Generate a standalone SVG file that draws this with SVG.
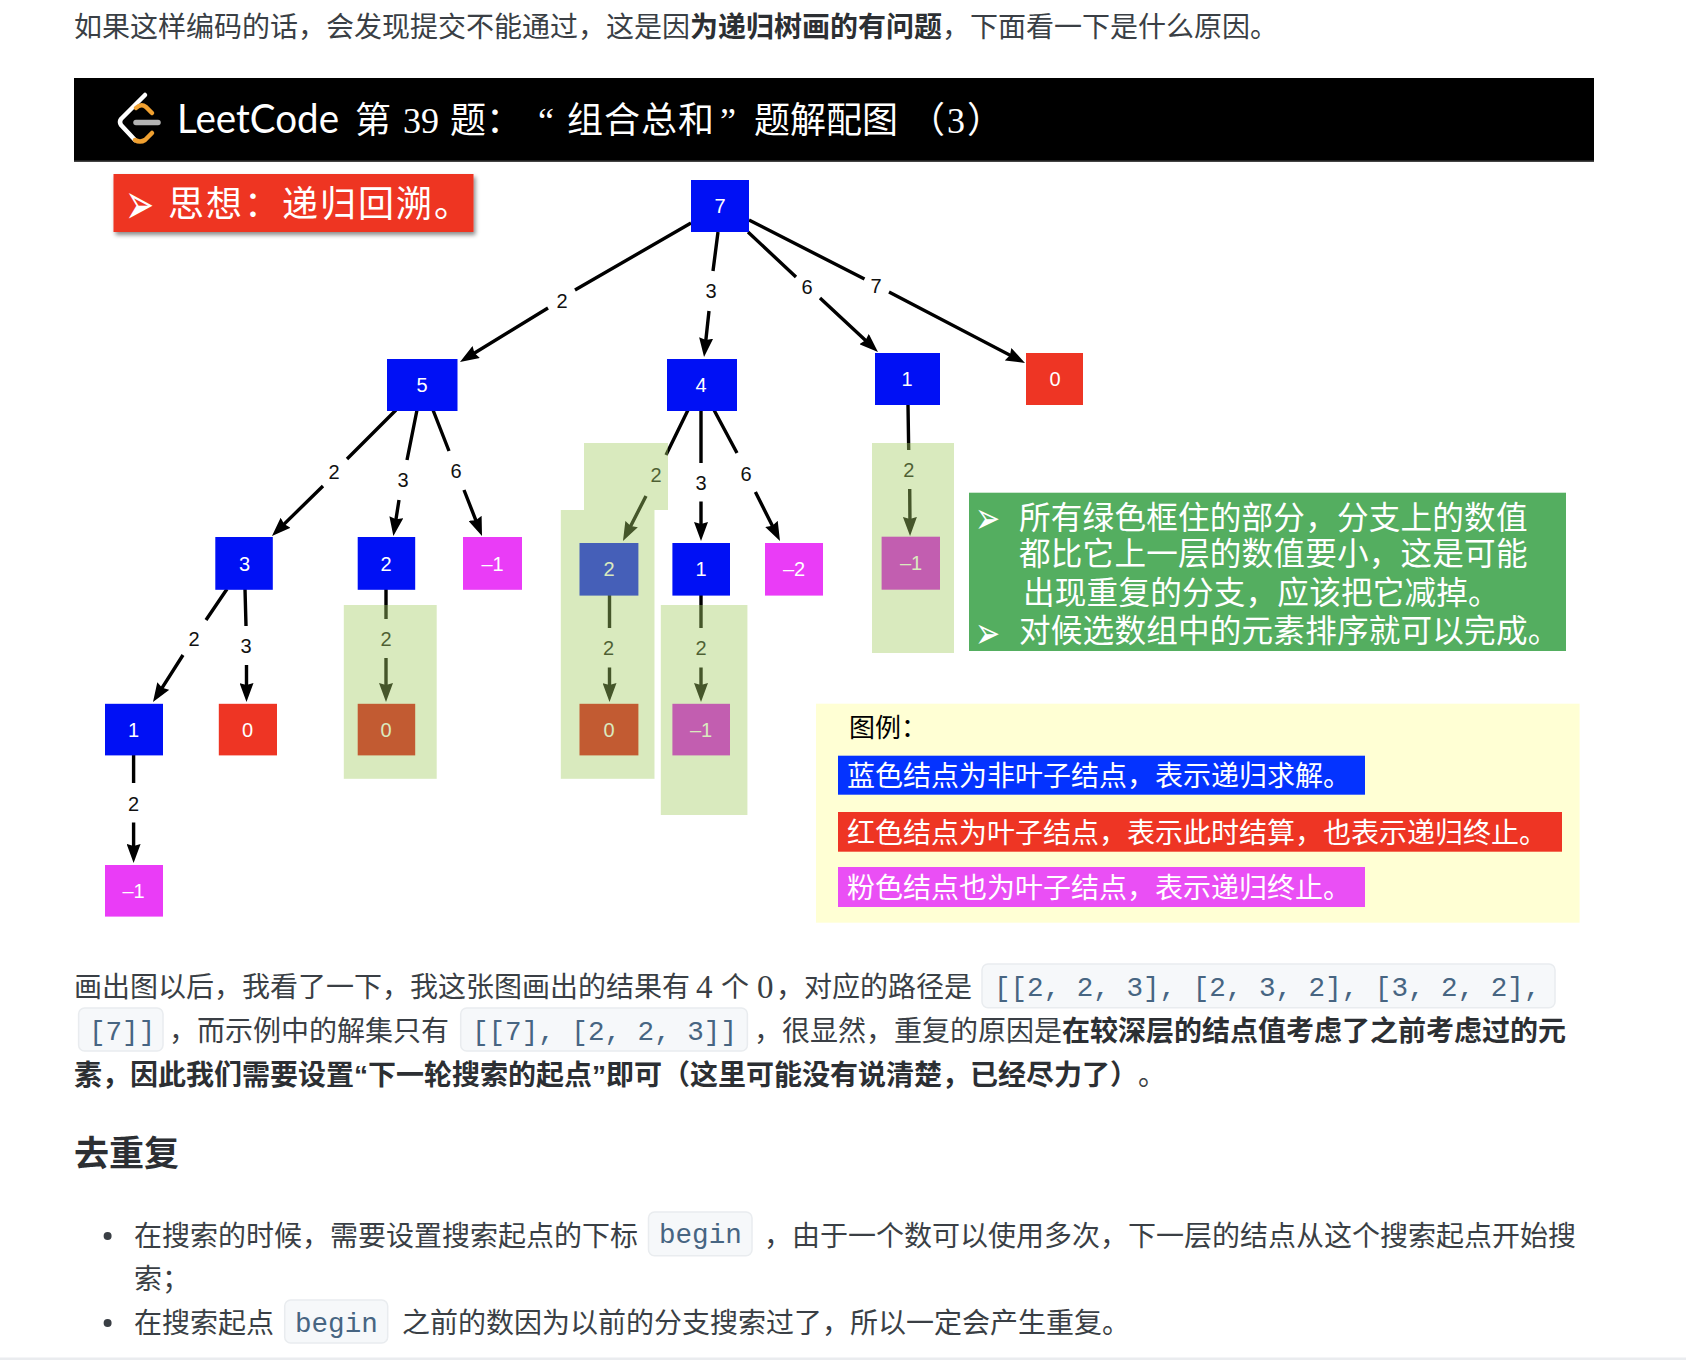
<svg xmlns="http://www.w3.org/2000/svg" width="1686" height="1360" viewBox="0 0 1686 1360">
  <style>
    text { font-family: "Noto Sans CJK SC", "Noto Sans", sans-serif; }
    .body { font-size: 28px; fill: #3a3f45; }
    .strong { font-weight: 700; fill: #2c2f33; }
    .latin { font-family: "Liberation Serif", serif; }
    .digit { font-size: 33px; }
    .curly { font-size: 42px; }
    .quote { font-family: "Liberation Sans", sans-serif; }
    .code { font-family: "Liberation Mono", monospace; font-size: 27.6px; fill: #476582; }
    .codebox { fill: #f6f8fa; stroke: #e9ecef; stroke-width: 1.5; }
    .title { font-size: 36px; fill: #fff; }
    .note { font-size: 31.6px; letter-spacing: 0.2px; fill: #fff; }
    .legend { font-size: 28px; fill: #fff; }
    .mark { font-family: "DejaVu Sans", sans-serif; fill: #fff; }
    .n { font-family: "Liberation Sans", sans-serif; font-size: 20px; fill: #fff; text-anchor: middle; }
    .e { font-family: "Liberation Sans", sans-serif; font-size: 20px; fill: #111; text-anchor: middle; }
    .blue { fill: #0010f5; }
    .red { fill: #ee3524; }
    .pink { fill: #ea3cf7; }
    .red-under { fill: #d70a0e; }
    .pink-under { fill: #d70fe7; }
    .edge { fill: none; stroke: #000; stroke-width: 3.4; marker-end: url(#head); }
    .wash { fill: #a4cd64; fill-opacity: 0.42; }
  </style>
  <defs>
    <marker id="head" markerUnits="userSpaceOnUse" viewBox="0 0 19 14" refX="11" refY="7" markerWidth="19" markerHeight="14" orient="auto">
      <polygon points="0,0 19,7 0,14 2,7" fill="#000"/>
    </marker>
    <filter id="lift" x="-5%" y="-15%" width="112%" height="140%">
      <feDropShadow dx="2" dy="3" stdDeviation="2" flood-color="#000" flood-opacity="0.45"/>
    </filter>
  </defs>

  <rect width="1686" height="1360" fill="#fff"/>

  <!-- opening sentence -->
  <text class="body" x="74" y="37">如果这样编码的话，会发现提交不能通过，这是因<tspan class="strong">为递归树画的有问题</tspan>，下面看一下是什么原因。</text>

  <!-- title banner -->
  <g id="banner">
    <rect x="74" y="78" width="1520" height="84" fill="#000"/>
    <rect x="74" y="160.5" width="1520" height="1.5" fill="#444"/>
    <g id="logo" fill="none" stroke-linecap="round" stroke-linejoin="round" stroke-width="4.5">
      <path d="M145 95 L121 119 Q119 122 121 125 L135 140" stroke="#fff"/>
      <path d="M135 140 Q140 143 145 140 L152 133" stroke="#f0a030"/>
      <path d="M136 108 Q141 103 146 107 L152 113" stroke="#f0a030"/>
      <path d="M136 122.5 L158 122.5" stroke="#b3b3b3" stroke-width="5.5"/>
    </g>
    <text x="177" y="133" fill="#fff" font-size="40" textLength="162" lengthAdjust="spacingAndGlyphs" style="font-family:Lato,sans-serif;font-weight:400">LeetCode</text>
    <text class="title" x="355" y="133">第</text>
    <text class="title latin" x="403" y="133">39</text>
    <text class="title" x="450" y="133">题：</text>
    <text class="title latin curly" x="538" y="133">“</text>
    <text class="title" x="567" y="133" letter-spacing="1">组合总和</text>
    <text class="title latin curly" x="720" y="133">”</text>
    <text class="title" x="754" y="133">题解配图</text>
    <text class="title" x="909" y="133">（</text>
    <text class="title latin" x="947" y="133">3</text>
    <text class="title" x="967" y="133">）</text>
  </g>

  <!-- caption on the red plate -->
  <g id="idea">
    <rect x="113.5" y="174" width="360" height="58" class="red" filter="url(#lift)"/>
    <text class="mark" transform="translate(125 223.5) scale(1.2 2)" font-size="29">➢</text>
    <text x="168" y="217" font-size="36" letter-spacing="2" fill="#fff">思想：递归回溯。</text>
  </g>

  <!-- tree edges, each broken around its weight -->
  <g id="connectors">
    <path class="edge" d="M691 223 L575 290 M548 308 L466.8 357.8"/>
    <path class="edge" d="M718 232 L713 271 M709 311 L704.9 349"/>
    <path class="edge" d="M748 232 L796 277 M820 298 L872.1 346.5"/>
    <path class="edge" d="M749 220 L864.5 279 M889 292 L1017.9 359.3"/>
    <path class="edge" d="M396 410 L347 459 M323 486 L277.7 530.4"/>
    <path class="edge" d="M417 410 L407 460 M399 500 L394.6 528.1"/>
    <path class="edge" d="M433 410 L449 451 M464 490 L479.1 528.6"/>
    <path class="edge" d="M688 410 L666 455 M646 496 L626.6 533.9"/>
    <path class="edge" d="M701 410 L701 463 M701 501.6 L701 533"/>
    <path class="edge" d="M714 410 L737 453 M755.4 492 L776.4 533.8"/>
    <path class="edge" d="M908 405 L908.7 450 M909.7 489 L910 528"/>
    <path class="edge" d="M227 589 L206 620 M183 655 L157.3 695.3"/>
    <path class="edge" d="M245 589 L246 626 M246.5 665 L246.5 694"/>
    <path class="edge" d="M386 589 L386 619 M386 658 L386 694"/>
    <path class="edge" d="M609.5 595 L609.5 628 M609.5 667.6 L609.5 694"/>
    <path class="edge" d="M701 595 L701 628 M701 667.6 L701 694"/>
    <path class="edge" d="M133.6 755 L133.6 783 M133.6 822.6 L133.6 855"/>
  </g>

  <!-- edge weights -->
  <g id="weights">
    <text class="e" x="562" y="308">2</text>
    <text class="e" x="711" y="298">3</text>
    <text class="e" x="807" y="294">6</text>
    <text class="e" x="876" y="293">7</text>
    <text class="e" x="334" y="479">2</text>
    <text class="e" x="403" y="487">3</text>
    <text class="e" x="456" y="477.5">6</text>
    <text class="e" x="656" y="482">2</text>
    <text class="e" x="701" y="489.7">3</text>
    <text class="e" x="746" y="481">6</text>
    <text class="e" x="908.7" y="477">2</text>
    <text class="e" x="194" y="645.7">2</text>
    <text class="e" x="246" y="652.6">3</text>
    <text class="e" x="386" y="645.7">2</text>
    <text class="e" x="608.5" y="655">2</text>
    <text class="e" x="701" y="655">2</text>
    <text class="e" x="133.6" y="810.6">2</text>
  </g>

  <!-- tree nodes -->
  <g id="n-root"><rect class="blue" x="691" y="180" width="58" height="52"/><text class="n" x="720" y="213">7</text></g>
  <g id="n-5"><rect class="blue" x="387" y="359" width="70.5" height="52"/><text class="n" x="422" y="392">5</text></g>
  <g id="n-4"><rect class="blue" x="667" y="359" width="70" height="52"/><text class="n" x="701" y="392">4</text></g>
  <g id="n-1a"><rect class="blue" x="875" y="353" width="65" height="52"/><text class="n" x="907" y="386">1</text></g>
  <g id="n-0a"><rect class="red" x="1026" y="353" width="57" height="52"/><text class="n" x="1055" y="386">0</text></g>
  <g id="n-3"><rect class="blue" x="215.3" y="537" width="57.5" height="52.8"/><text class="n" x="244.5" y="570.5">3</text></g>
  <g id="n-2a"><rect class="blue" x="357.7" y="537" width="57.5" height="52.8"/><text class="n" x="386" y="570.5">2</text></g>
  <g id="n-m1a"><rect class="pink" x="463" y="537" width="59" height="52.8"/><text class="n" x="492.5" y="570.5">–1</text></g>
  <g id="n-2b"><rect class="blue" x="579.5" y="543" width="58.9" height="52.6"/><text class="n" x="609" y="576">2</text></g>
  <g id="n-1b"><rect class="blue" x="672.4" y="543" width="57.6" height="52.6"/><text class="n" x="701" y="576">1</text></g>
  <g id="n-m2"><rect class="pink" x="765" y="543" width="58" height="52.6"/><text class="n" x="794" y="576">–2</text></g>
  <g id="n-m1b"><rect class="pink-under" x="881.6" y="536.7" width="58.4" height="53"/><text class="n" x="911" y="570">–1</text></g>
  <g id="n-1c"><rect class="blue" x="105" y="703.8" width="58" height="51.6"/><text class="n" x="133.6" y="736.5">1</text></g>
  <g id="n-0b"><rect class="red" x="218.8" y="703.8" width="58.2" height="51.6"/><text class="n" x="247.5" y="736.5">0</text></g>
  <g id="n-0c"><rect class="red-under" x="357.7" y="703.8" width="57.5" height="51.6"/><text class="n" x="386" y="736.5">0</text></g>
  <g id="n-0d"><rect class="red-under" x="579.5" y="703.8" width="58.9" height="51.6"/><text class="n" x="609" y="736.5">0</text></g>
  <g id="n-m1c"><rect class="pink-under" x="672.4" y="703.8" width="57.6" height="51.6"/><text class="n" x="701" y="736.5">–1</text></g>
  <g id="n-m1d"><rect class="pink" x="105" y="865" width="58" height="51.6"/><text class="n" x="133.6" y="898">–1</text></g>

  <!-- translucent green marking the branches to prune -->
  <g id="prune-marks">
    <rect class="wash" x="343.8" y="605" width="92.9" height="173.8"/>
    <rect class="wash" x="584" y="443" width="84" height="67"/>
    <rect class="wash" x="560.8" y="510" width="93.7" height="268.8"/>
    <rect class="wash" x="660.8" y="605" width="86.6" height="210"/>
    <rect class="wash" x="872" y="443" width="82" height="210"/>
  </g>

  <!-- green explanation panel -->
  <g id="note">
    <rect x="969" y="492.7" width="597" height="158.3" fill="#54ae60"/>
    <text class="mark" transform="translate(975 533) scale(1.2 1.75)" font-size="25">➢</text>
    <text class="note" x="1019" y="528.5">所有绿色框住的部分，分支上的数值</text>
    <text class="note" x="1019" y="565">都比它上一层的数值要小，这是可能</text>
    <text class="note" x="1023" y="603.5">出现重复的分支，应该把它减掉。</text>
    <text class="mark" transform="translate(975 647.5) scale(1.2 1.75)" font-size="25">➢</text>
    <text class="note" x="1019" y="642">对候选数组中的元素排序就可以完成。</text>
  </g>

  <!-- legend -->
  <g id="legend">
    <rect x="816" y="703.7" width="763.6" height="219" fill="#ffffd4"/>
    <text x="849" y="737" font-size="26" fill="#000">图例：</text>
    <rect x="838" y="755.7" width="527" height="39" fill="#0433ff"/>
    <text class="legend" x="847" y="785.6">蓝色结点为非叶子结点，表示递归求解。</text>
    <rect x="838" y="812" width="724" height="39.7" class="red"/>
    <text class="legend" x="847" y="842.6">红色结点为叶子结点，表示此时结算，也表示递归终止。</text>
    <rect x="838" y="867" width="527" height="40" fill="#ea4ff5"/>
    <text class="legend" x="847" y="898.3">粉色结点也为叶子结点，表示递归终止。</text>
  </g>

  <!-- paragraph under the figure -->
  <g id="paragraph">
    <rect class="codebox" x="982" y="964" width="573" height="43.7" rx="6"/>
    <rect class="codebox" x="78.6" y="1008" width="84.4" height="43" rx="6"/>
    <rect class="codebox" x="460.7" y="1008" width="286.7" height="43" rx="6"/>
    <text class="body" x="74" y="996.6">画出图以后，我看了一下，我这张图画出的结果有</text>
    <text class="body latin digit" x="696" y="998">4</text>
    <text class="body" x="721" y="996.6">个</text>
    <text class="body latin digit" x="757" y="998">0</text>
    <text class="body" x="776" y="996.6">，对应的路径是</text>
    <text class="code" x="994" y="995.5">[[2, 2, 3], [2, 3, 2], [3, 2, 2],</text>
    <text class="code" x="89" y="1040">[7]]</text>
    <text class="body" x="169" y="1041">，</text>
    <text class="body" x="197" y="1041">而示例中的解集只有</text>
    <text class="code" x="472" y="1040">[[7], [2, 2, 3]]</text>
    <text class="body" x="754" y="1041">，很显然，重复的原因是<tspan class="strong">在较深层的结点值考虑了之前考虑过的元</tspan></text>
    <text class="body" x="74" y="1085"><tspan class="strong">素，因此我们需要设置<tspan class="quote">“</tspan>下一轮搜索的起点<tspan class="quote">”</tspan>即可（这里可能没有说清楚，已经尽力了）</tspan></text>
    <text class="body" x="1138" y="1085">。</text>
  </g>

  <!-- section heading -->
  <text x="74" y="1166" font-size="35" font-weight="700" fill="#2c2f33">去重复</text>

  <!-- bullet list -->
  <g id="list">
    <circle cx="107.6" cy="1236" r="4" fill="#3a3f45"/>
    <circle cx="107.6" cy="1323" r="4" fill="#3a3f45"/>
    <rect class="codebox" x="648.5" y="1212" width="103.5" height="43.7" rx="6"/>
    <rect class="codebox" x="284.7" y="1300" width="103" height="43" rx="6"/>
    <text class="body" x="134" y="1245.6">在搜索的时候，需要设置搜索起点的下标</text>
    <text class="code" x="659" y="1243">begin</text>
    <text class="body" x="764" y="1245.6">，由于一个数可以使用多次，下一层的结点从这个搜索起点开始搜</text>
    <text class="body" x="134" y="1288.6">索；</text>
    <text class="body" x="134" y="1333.3">在搜索起点</text>
    <text class="code" x="295" y="1331.7">begin</text>
    <text class="body" x="402" y="1333.3">之前的数因为以前的分支搜索过了，所以一定会产生重复。</text>
  </g>

  <!-- closing rule -->
  <rect x="0" y="1357.5" width="1686" height="2.5" fill="#eaecef"/>
</svg>
